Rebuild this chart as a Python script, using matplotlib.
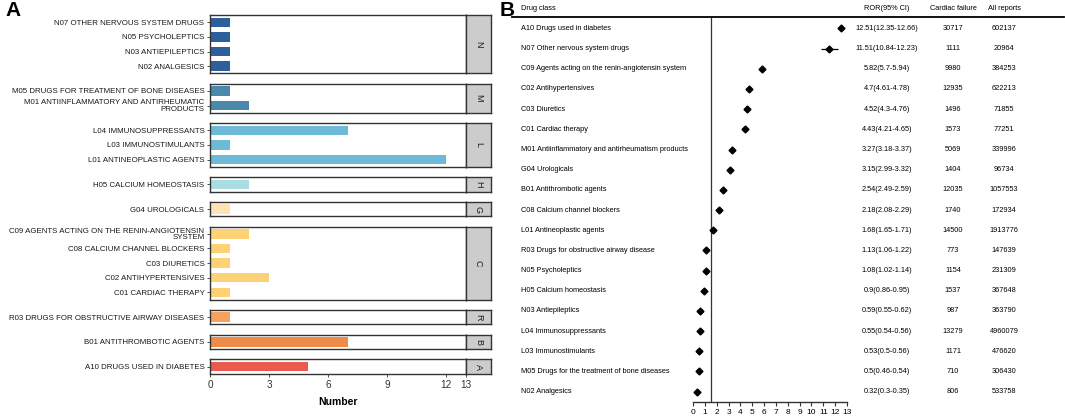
import matplotlib.pyplot as plt
import matplotlib.transforms as mtransforms
from matplotlib import font_manager

plt.rcParams['font.family'] = ['Liberation Sans', 'DejaVu Sans']

# ---- Panel A data (facets, top to bottom) ----
facet_names = ["N", "M", "L", "H", "G", "C", "R", "B", "A"]
facet_labels = [
    ["N07 OTHER NERVOUS SYSTEM DRUGS", "N05 PSYCHOLEPTICS", "N03 ANTIEPILEPTICS", "N02 ANALGESICS"],
    ["M05 DRUGS FOR TREATMENT OF BONE DISEASES", "M01 ANTIINFLAMMATORY AND ANTIRHEUMATIC\nPRODUCTS"],
    ["L04 IMMUNOSUPPRESSANTS", "L03 IMMUNOSTIMULANTS", "L01 ANTINEOPLASTIC AGENTS"],
    ["H05 CALCIUM HOMEOSTASIS"],
    ["G04 UROLOGICALS"],
    ["C09 AGENTS ACTING ON THE RENIN-ANGIOTENSIN\nSYSTEM", "C08 CALCIUM CHANNEL BLOCKERS",
     "C03 DIURETICS", "C02 ANTIHYPERTENSIVES", "C01 CARDIAC THERAPY"],
    ["R03 DRUGS FOR OBSTRUCTIVE AIRWAY DISEASES"],
    ["B01 ANTITHROMBOTIC AGENTS"],
    ["A10 DRUGS USED IN DIABETES"],
]
facet_values = [
    [1, 1, 1, 1],
    [1, 2],
    [7, 1, 12],
    [2],
    [1],
    [2, 1, 1, 3, 1],
    [1],
    [7],
    [5],
]
facet_colors = ["#2F5F98", "#4A88AC", "#6DBAD6", "#A9DDE2", "#FDE3B5",
                "#FDD175", "#F5A35C", "#F08B47", "#E85B4E"]
x_ticks_a = [0, 3, 6, 9, 12, 13]

# ---- Panel B data ----
drug_class = [
    "A10 Drugs used in diabetes", "N07 Other nervous system drugs",
    "C09 Agents acting on the renin-angiotensin system", "C02 Antihypertensives",
    "C03 Diuretics", "C01 Cardiac therapy",
    "M01 Antiinflammatory and antirheumatism products", "G04 Urologicals",
    "B01 Antithrombotic agents", "C08 Calcium channel blockers",
    "L01 Antineoplastic agents", "R03 Drugs for obstructive airway disease",
    "N05 Psycholeptics", "H05 Calcium homeostasis", "N03 Antiepileptics",
    "L04 Immunosuppressants", "L03 Immunostimulants",
    "M05 Drugs for the treatment of bone diseases", "N02 Analgesics",
]
ror = [12.51, 11.51, 5.82, 4.7, 4.52, 4.43, 3.27, 3.15, 2.54, 2.18, 1.68, 1.13,
       1.08, 0.9, 0.59, 0.55, 0.53, 0.5, 0.32]
ror_lo = [12.35, 10.84, 5.7, 4.61, 4.3, 4.21, 3.18, 2.99, 2.49, 2.08, 1.65, 1.06,
          1.02, 0.86, 0.55, 0.54, 0.5, 0.46, 0.3]
ror_hi = [12.66, 12.23, 5.94, 4.78, 4.76, 4.65, 3.37, 3.32, 2.59, 2.29, 1.71, 1.22,
          1.14, 0.95, 0.62, 0.56, 0.56, 0.54, 0.35]
cardiac_failure = [30717, 1111, 9980, 12935, 1496, 1573, 5069, 1404, 12035, 1740,
                   14500, 773, 1154, 1537, 987, 13279, 1171, 710, 806]
all_reports = [602137, 20964, 384253, 622213, 71855, 77251, 339996, 96734, 1057553,
               172934, 1913776, 147639, 231309, 367648, 363790, 4960079, 476620,
               306430, 533758]
ref_line = 1.5

# narrow font for the long labels of panel A if there is one
installed = {f.name for f in font_manager.fontManager.ttflist}
if "Liberation Sans Narrow" in installed:
    lab_family, lab_size = ["Liberation Sans Narrow", "DejaVu Sans"], 6.9
else:
    lab_family, lab_size = ["Liberation Sans", "DejaVu Sans"], 5.7

W, H = 1065, 420
fig = plt.figure(figsize=(W / 100, H / 100), dpi=100)


def px_axes(x0, y0, x1, y1):
    # pixel box (top-left origin) -> figure axes
    return fig.add_axes([x0 / W, 1 - y1 / H, (x1 - x0) / W, (y1 - y0) / H])


def fx(x):
    return x / W


def fy(y):
    return 1 - y / H


# ---------------- Panel A ----------------
row_h = 14.6
gap = 10.2
top = 15
x0a, x1a, xs = 210, 466, 491
edge = "#333333"

for i, name in enumerate(facet_names):
    labels = facet_labels[i]
    vals = facet_values[i]
    n = len(vals)
    bottom = top + n * row_h
    ax = px_axes(x0a, top, x1a, bottom)
    ax.barh(range(n), vals, height=0.64, color=facet_colors[i], edgecolor="none")
    ax.set_xlim(0, 13)
    ax.set_ylim(n - 0.5, -0.5)
    ax.set_yticks(range(n))
    ax.set_yticklabels(labels, fontsize=lab_size, family=lab_family,
                       color="#1a1a1a", linespacing=0.9)
    ax.tick_params(axis="y", length=2.5, width=0.6, pad=1.5, color=edge)
    for sp in ax.spines.values():
        sp.set_color(edge)
        sp.set_linewidth(1.0)
    if i == len(facet_names) - 1:
        ax.set_xticks(x_ticks_a)
        ax.tick_params(axis="x", length=2.5, width=0.6, pad=2, labelsize=7.2,
                       color=edge, labelcolor="#333333")
        ax.set_xlabel("Number", fontsize=7.5, fontweight="bold", labelpad=5)
    else:
        ax.set_xticks([])
    # strip on the right
    sax = px_axes(x1a, top, xs, bottom)
    sax.set_facecolor("#CCCCCC")
    sax.set_xticks([])
    sax.set_yticks([])
    for sp in sax.spines.values():
        sp.set_color(edge)
        sp.set_linewidth(1.0)
    sax.text(0.5, 0.5, name, rotation=-90, ha="center", va="center",
             fontsize=6.5, color="#1a1a1a", transform=sax.transAxes)
    top = bottom + gap

fig.text(fx(5), fy(10), "A", fontsize=15, fontweight="bold", va="center", ha="left")

# ---------------- Panel B ----------------
fig.text(fx(500), fy(10), "B", fontsize=15, fontweight="bold", va="center", ha="left")

nr = len(drug_class)
axb = px_axes(693, 17, 847, 402)
ys = list(range(nr))
axb.errorbar(ror, ys, xerr=[[r - l for r, l in zip(ror, ror_lo)],
                            [h - r for r, h in zip(ror, ror_hi)]],
             fmt="D", color="black", markersize=3.5, elinewidth=0.9, capsize=0)
axb.axvline(ref_line, color="#333333", linewidth=0.9)
axb.set_xlim(0, 13)
axb.set_ylim(nr - 1 + 0.52, -0.57)
axb.set_xticks(range(0, 14))
axb.set_yticks([])
axb.tick_params(axis="x", length=3, width=0.8, pad=2, labelsize=6, color="#333333")
for s in ["top", "right", "left"]:
    axb.spines[s].set_visible(False)
axb.spines["bottom"].set_linewidth(1.0)
axb.spines["bottom"].set_color("#333333")

tr = mtransforms.blended_transform_factory(fig.transFigure, axb.transData)
fs = 5.3
col_ror, col_cf, col_all = 887, 953, 1004
for i in range(nr):
    axb.text(fx(521), i, drug_class[i], transform=tr, ha="left", va="center", fontsize=fs)
    axb.text(fx(col_ror), i, f"{ror[i]:g}({ror_lo[i]:g}-{ror_hi[i]:g})", transform=tr,
             ha="center", va="center", fontsize=fs)
    axb.text(fx(col_cf), i, str(cardiac_failure[i]), transform=tr,
             ha="center", va="center", fontsize=fs)
    axb.text(fx(col_all), i, str(all_reports[i]), transform=tr,
             ha="center", va="center", fontsize=fs)

# header
fig.text(fx(521), fy(8), "Drug class", ha="left", va="center", fontsize=fs)
fig.text(fx(col_ror), fy(8), "ROR(95% CI)", ha="center", va="center", fontsize=fs)
fig.text(fx(col_cf), fy(8), "Cardiac failure", ha="center", va="center", fontsize=fs)
fig.text(fx(col_all), fy(8), "All reports", ha="center", va="center", fontsize=fs)
fig.add_artist(plt.Line2D([fx(512), fx(1064)], [fy(17), fy(17)], color="black", linewidth=1.3))

fig.savefig("out.png", dpi=100)
